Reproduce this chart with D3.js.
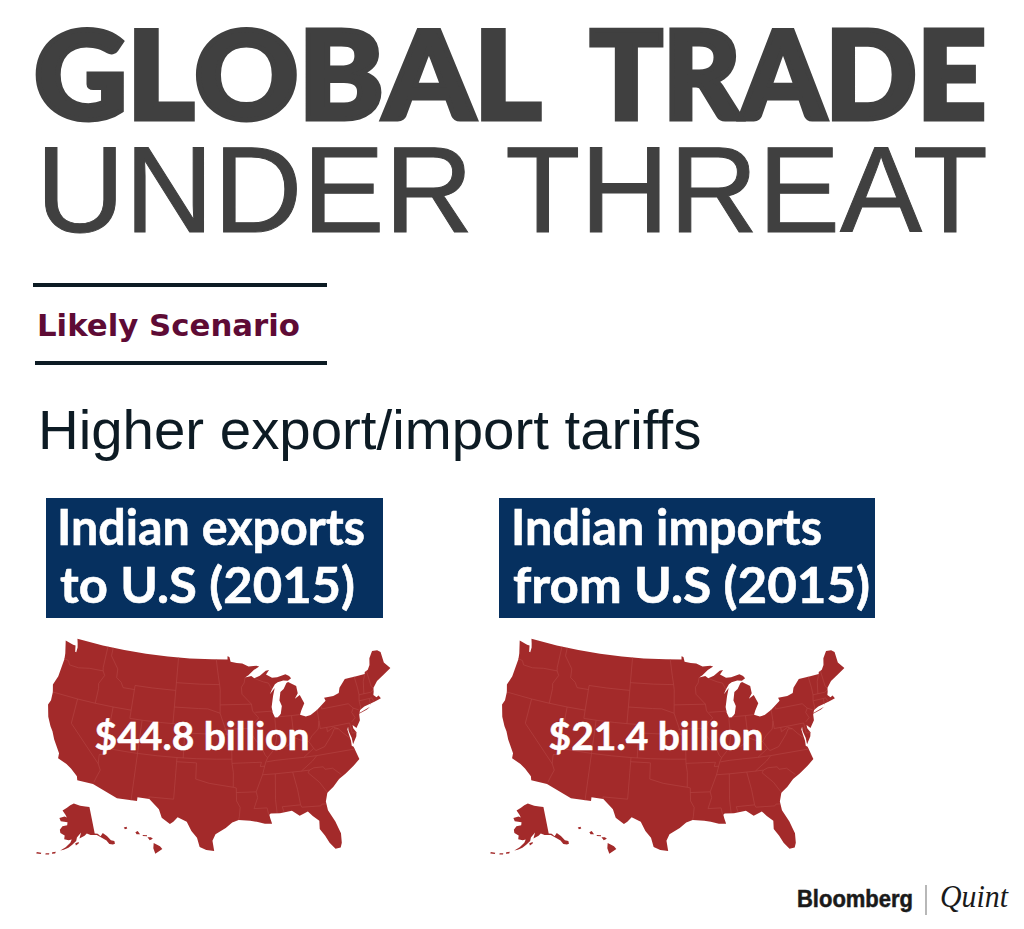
<!DOCTYPE html>
<html>
<head>
<meta charset="utf-8">
<script src="https://cdn.jsdelivr.net/npm/d3@7"></script>
<style>
  html, body { margin: 0; background: #fff; }
  svg { display: block; }
</style>
</head>
<body>
<svg id="chart" width="1024" height="929"></svg>
<script>
// text and values
var headlineWords = ['GLOBAL', 'TRADE'],
    subhead = 'UNDER THREAT',
    sectionLabel = 'Likely Scenario',
    scenario = 'Higher export/import tariffs',
    panelTitles = [['Indian exports', 'to U.S (2015)'], ['Indian imports', 'from U.S (2015)']],
    panelValues = [44.8, 21.4];

// outlines as [lon, lat], clockwise
var mainland = [[-124.7,48.4],[-123.2,48.15],[-122.75,48.15],[-122.5,47.4],[-122.3,47.4],[-122.3,48.0],[-122.5,48.5],[-122.75,49],
    [-118,49],[-114,49],[-110,49],[-106,49],[-102,49],[-98,49],[-95.15,49],[-95.15,49.38],[-94.8,49.3],[-94.6,48.7],[-93.5,48.55],[-92.5,48.45],[-91.4,48.07],[-90,48.1],[-89.5,48],
    [-90.5,47.6],[-91.5,47],[-92.1,46.75],[-91,46.9],[-90.5,46.6],[-89.5,46.85],[-88.4,47.4],[-87.8,47.47],[-88.4,46.95],[-87.4,46.5],[-86.5,46.5],[-85,46.75],[-84.4,46.5],[-84.1,46.2],[-84.7,45.95],
    [-85.5,46.05],[-86.5,45.9],[-87,45.7],[-87.6,45.1],[-88,44.55],[-87.1,45.25],[-87.5,44.3],[-87.9,43],[-87.8,42.3],[-87.5,41.7],[-87,41.7],[-86.5,42.1],[-86.2,43],[-86.5,43.7],[-86.2,44.7],[-85.6,45],[-85,45.7],[-84.7,45.78],
    [-83.4,45.2],[-83.3,44.3],[-83.9,43.7],[-83,44.07],[-82.45,43],[-83.1,42.2],[-83.4,41.7],[-82.5,41.4],[-81.7,41.5],[-80.5,42],[-78.9,42.9],[-79.05,43.27],[-77.5,43.27],[-76.5,43.5],[-76.2,44.1],[-75,45],[-73,45],[-71.5,45],[-71.4,45.25],[-70.8,45.4],[-70.3,45.9],[-70,46.7],[-69.2,47.45],[-68.3,47.35],[-67.8,47.05],[-67.8,45.7],[-67,44.85],
    [-68.5,44.3],[-69.8,43.8],[-70.7,43.1],[-70.8,42.7],[-71,42.3],[-70.6,41.95],[-70.2,42.07],[-69.95,41.7],[-70.7,41.55],[-71.4,41.45],[-72.9,41.25],[-73.7,40.95],[-74,40.45],[-74.1,39.75],[-74.9,38.95],[-75.4,39.4],[-75.4,39],[-75.05,38.45],[-75.2,38],[-75.95,37.15],
    [-75.95,37.9],[-76.2,38.8],[-76.15,39.3],[-76.35,39],[-76.25,38.3],[-76.15,37.6],[-76.2,37],[-75.95,36.85],[-75.5,35.25],[-76.5,34.65],[-77.9,33.9],[-79,33.4],[-80,32.6],[-81,32],[-81.4,31],[-81.3,29.9],[-80.55,28.45],[-80.05,26.9],[-80.15,25.75],[-80.4,25.2],[-81.1,25.15],[-81.75,26],[-82.2,26.9],[-82.8,27.8],[-82.7,28.8],[-83.5,29.5],[-84.1,30.1],[-85.3,29.7],[-86.3,30.4],[-88,30.25],[-89.3,30.3],[-89.5,30.15],[-89.4,29.7],[-89.2,29.05],[-90.2,29.1],[-91.3,29.4],[-92.2,29.55],[-93.8,29.7],[-94.7,29.4],[-95.6,28.75],[-97,28],[-97.4,27.2],[-97.15,25.95],
    [-98.2,26.05],[-99.1,26.4],[-99.5,27.5],[-100.3,28.3],[-101,29.4],[-102.3,29.88],[-102.85,29.3],[-103.3,29],[-104.5,29.65],[-105,30.65],[-106.5,31.75],[-108.2,31.78],[-108.2,31.33],[-111.07,31.33],[-114.8,32.5],[-117.12,32.53],[-117.3,33],[-118.4,33.75],[-119.2,34.15],[-120.6,34.55],[-120.65,35.15],[-121.9,36.6],[-122.5,37.5],[-123,38],[-123.75,39],[-124.35,40.4],[-124.1,41],[-124.2,42],[-124.55,42.85],[-124.1,44],[-123.95,46.2],[-124.1,46.9],[-124.7,48.4]];

var longIsland = [[-74,40.6],[-72,41.05],[-72.6,40.8],[-73.9,40.55],[-74,40.6]];

var alaska = [[-156.5,71.3],[-150,70.5],[-145,70],[-141,69.65],[-141,65],[-141,60.3],[-139,60],[-137.5,58.9],[-135.5,59.8],[-133.4,58.4],[-131.8,56.6],[-130,55.9],[-130.2,55],[-131.5,55],[-133.5,55.5],[-134.5,57],[-136.5,58.1],[-139.8,59.6],[-144,60],[-146.5,60.7],[-148.2,60],[-151.8,59.2],[-150.5,61.2],[-153.5,59.5],[-154,58.3],[-156.5,57],[-158.8,55.9],[-161.5,55.1],[-163.5,54.7],[-160.5,56],[-157.8,57.7],[-157,58.8],[-159,58.5],[-162,58.7],[-162,60],[-165.2,60.6],[-166,61.7],[-164.5,63],[-161,63.6],[-161,64.6],[-166.5,64.6],[-168.1,65.6],[-164,66.5],[-162,66.2],[-163.5,67.1],[-166.7,68.35],[-163,69.6],[-160,70.6],[-156.5,71.3]];

var islands = [
    [[-154.6,57.6],[-152.3,58],[-152.4,57.5],[-154.2,56.8],[-154.6,57.6]],
    [[-168,53.6],[-166,54],[-166.2,53.4],[-168,53.1],[-168,53.6]],
    [[-171.5,52.7],[-169.5,53],[-169.5,52.6],[-171.5,52.3],[-171.5,52.7]],
    [[-176.5,52.2],[-174,52.5],[-174,52],[-176.5,51.7],[-176.5,52.2]],
    [[-155.9,20.25],[-155.1,19.85],[-154.8,19.5],[-155.7,18.95],[-155.95,19.6],[-155.9,20.25]],
    [[-156.7,20.95],[-156.25,20.95],[-156,20.75],[-156.4,20.58],[-156.7,20.95]],
    [[-157.3,21.2],[-156.75,21.17],[-156.75,21.05],[-157.3,21.08],[-157.3,21.2]],
    [[-158.25,21.55],[-157.95,21.7],[-157.65,21.3],[-158.1,21.3],[-158.25,21.55]],
    [[-159.75,22.1],[-159.4,22.22],[-159.3,22],[-159.6,21.9],[-159.75,22.1]]
];

// state lines, west to east
var stateLines = [
    [[-124,46.25],[-123.2,46.15],[-122.8,45.7],[-121.2,45.65],[-119.3,45.93],[-116.92,46]],
    [[-117.03,49],[-117.04,46.4],[-116.92,46],[-116.5,45.5],[-117.2,44.4],[-117.03,43.8],[-117.03,42]],
    [[-124.2,42],[-120,42],[-117.03,42],[-114.04,42],[-111.05,42]],
    [[-120,42],[-120,39],[-114.63,35]],
    [[-114.63,35],[-114.75,36.1],[-114.04,36.2]],
    [[-114.04,42],[-114.04,37]],
    [[-114.63,35],[-114.15,34.3],[-114.5,33.4],[-114.72,32.72]],
    [[-114.04,37],[-111,37],[-109.05,37],[-106,37],[-103,37],[-100,37],[-97,37],[-94.62,37]],
    [[-109.05,41],[-109.05,37],[-109.05,31.33]],
    [[-111.05,45],[-111.05,42],[-111.05,41],[-109.05,41],[-106,41],[-104.05,41],[-102.05,41],[-102.05,40],[-102.05,37]],
    [[-111.05,45],[-108,45],[-104.05,45]],
    [[-116.05,49],[-116.05,48],[-114.5,46.6],[-114.4,45.55],[-113.5,45.1],[-113,44.5],[-111.05,44.5]],
    [[-104.05,49],[-104.05,45],[-104.05,43],[-104.05,41]],
    [[-104.05,45.94],[-100,45.94],[-96.56,45.94]],
    [[-104.05,43],[-100,43],[-98.5,43],[-96.45,42.5]],
    [[-102.05,40],[-99,40],[-95.3,40]],
    [[-103,37],[-103.04,32],[-106.6,32],[-106.5,31.75]],
    [[-103,36.5],[-100,36.5],[-100,34.56],[-98,34.1],[-96,33.85],[-94.48,33.64]],
    [[-94.62,36.5],[-94.43,35.4],[-94.48,33.64],[-94.04,33.55],[-94.04,31.99],[-93.55,31.2],[-93.7,30.1],[-93.8,29.7]],
    [[-94.04,33],[-91.17,33]],
    [[-97.2,49],[-96.8,47],[-96.56,45.94],[-96.45,45.3],[-96.45,43.5],[-96.45,42.5],[-96,41.5],[-95.3,40],[-94.62,39.1],[-94.62,36.5]],
    [[-96.45,43.5],[-91.22,43.5]],
    [[-95.77,40.58],[-91.7,40.6],[-91.42,40.38]],
    [[-92.1,46.75],[-92.3,46.1],[-92.8,45.6],[-92.75,44.75],[-91.22,43.5],[-91.1,42.7],[-90.15,41.8],[-91.05,41.2],[-91.42,40.38],[-91.5,40],[-90.7,39],[-90.2,38.7],[-89.5,37.3],[-89.15,37],[-89.5,36.5],[-90.1,35],[-91.17,33],[-91,32.3],[-91.6,31],[-89.75,31],[-89.6,30.2]],
    [[-90.64,42.5],[-87.8,42.5]],
    [[-90.4,46.55],[-89,46.1],[-88.1,45.9],[-87.6,45.1]],
    [[-87.53,41.7],[-87.53,39.3],[-87.95,38]],
    [[-89.15,37],[-88.1,37.9],[-87,37.9],[-85.7,38.3],[-84.8,39.1],[-83.7,38.65],[-82.6,38.4],[-82,39],[-80.85,39.7],[-80.52,40.64],[-80.52,42]],
    [[-84.8,39.1],[-84.8,41.73]],
    [[-87,41.76],[-84.8,41.73],[-83.45,41.73]],
    [[-79.76,42.27],[-79.76,42],[-75.35,42],[-74.7,41.36],[-75.1,40.9],[-74.75,40.2],[-75.4,39.8]],
    [[-74.7,41.36],[-73.9,41]],
    [[-80.52,40.64],[-80.52,39.72],[-78,39.72],[-75.79,39.72],[-75.7,38.46],[-75.05,38.45]],
    [[-79.48,39.72],[-79.48,39.2],[-78.4,39.6],[-77.7,39.3],[-77.1,38.7],[-76.3,38]],
    [[-77.7,39.3],[-78.35,39.4],[-78.9,38.75],[-80.3,37.5],[-81.7,37.2],[-82,37.5],[-82.6,38.4]],
    [[-82,37.5],[-83.68,36.6]],
    [[-75.9,36.55],[-81.7,36.59],[-83.68,36.6],[-86,36.63],[-88.07,36.6],[-89.4,36.5]],
    [[-90.1,35],[-88.2,35],[-84.32,35],[-83.1,35]],
    [[-81.7,36.59],[-82.5,36],[-84.32,35]],
    [[-83.1,35],[-82.4,35.2],[-81,35.15],[-80.8,34.82],[-79.67,34.8],[-78.55,33.86]],
    [[-83.1,35],[-83.35,34.7],[-81.9,33.4],[-81,32.05]],
    [[-85.6,35],[-85.18,32.87],[-85,31]],
    [[-88.2,35],[-88.47,31.9],[-88.4,30.3]],
    [[-87.45,30.4],[-87.6,31],[-85,31],[-84.86,30.7],[-82.2,30.56],[-82,30.75],[-81.45,30.7]],
    [[-94.62,36.5],[-90.15,36.5],[-90.37,36],[-89.7,36]],
    [[-73.35,45],[-73.25,43.6],[-73.28,42.75],[-73.5,42.05],[-73.5,41.3],[-73.65,41]],
    [[-71.5,45],[-72.05,44.2],[-72.46,42.73]],
    [[-73.28,42.75],[-71.3,42.7],[-70.82,42.87]],
    [[-71.08,45.3],[-70.98,43.4],[-70.7,43.07]],
    [[-73.5,42.05],[-71.8,42.02],[-71.38,42.02],[-71.15,41.5]],
    [[-71.8,42.02],[-71.85,41.32]]
];

var landShape = {
    type: 'MultiPolygon',
    coordinates: [[mainland], [longIsland], [alaska]].concat(islands.map(function(d) { return [d]; }))
};
var stateShape = { type: 'MultiLineString', coordinates: stateLines };

var svg = d3.select('#chart');

// headline block, each word fitted to its own width
var wordLayout = [[34, 507], [590, 396]];
svg.selectAll('.headline').data(headlineWords).enter()
  .append('text')
    .classed('headline', true)
    .attr('x', function(d, i) { return wordLayout[i][0]; })
    .attr('y', 119)
    .attr('textLength', function(d, i) { return wordLayout[i][1]; })
    .attr('lengthAdjust', 'spacingAndGlyphs')
    .style('font', '900 122px Lato')
    .style('font-kerning', 'none')
    .style('fill', '#404040')
    .style('stroke', '#404040')
    .style('stroke-width', 5)
    .text(function(d) { return d; });

svg.append('text')
    .attr('x', 36)
    .attr('y', 232)
    .attr('textLength', 952)
    .attr('lengthAdjust', 'spacingAndGlyphs')
    .style('font', '400 122px "Liberation Sans"')
    .style('fill', '#404040')
    .style('stroke', '#404040')
    .style('stroke-width', 1)
    .text(subhead);

// rules around the section label
svg.selectAll('.rule').data([[33, 285], [35, 363]]).enter()
  .append('line')
    .classed('rule', true)
    .attr('x1', function(d) { return d[0]; })
    .attr('x2', 327)
    .attr('y1', function(d) { return d[1]; })
    .attr('y2', function(d) { return d[1]; })
    .attr('stroke', '#0d1b24')
    .attr('stroke-width', 4);

svg.append('text')
    .attr('x', 37)
    .attr('y', 336)
    .attr('textLength', 263)
    .attr('lengthAdjust', 'spacingAndGlyphs')
    .style('font', '700 30px "DejaVu Sans"')
    .style('fill', '#5e0b35')
    .text(sectionLabel);

svg.append('text')
    .attr('x', 38)
    .attr('y', 449)
    .style('font', '400 56.4px "Liberation Sans"')
    .style('fill', '#0d1b24')
    .text(scenario);

// one panel per trade direction
var panelLayout = [
    { x: 46, w: 337, textX: [57, 60], widths: [308, 295], map: 219 },
    { x: 499, w: 376, textX: [511, 513], widths: [311, 357], map: 673 }
];

panelLayout.forEach(function(p, i) {
    svg.append('rect')
        .attr('x', p.x)
        .attr('y', 498)
        .attr('width', p.w)
        .attr('height', 120)
        .attr('fill', '#06305f');

    panelTitles[i].forEach(function(line, j) {
        svg.append('text')
            .attr('x', p.textX[j])
            .attr('y', 545 + j * 58)
            .attr('textLength', p.widths[j])
            .attr('lengthAdjust', 'spacingAndGlyphs')
            .style('font', '700 49px Lato')
            .style('fill', '#fff')
            .style('stroke', '#fff')
            .style('stroke-width', 0.6)
            .text(line);
    });

    var projection = d3.geoAlbersUsa().scale(475).translate([p.map, 745]),
        path = d3.geoPath(projection);

    svg.append('path')
        .attr('d', path(landShape))
        .attr('fill', '#a32a2a');

    svg.append('path')
        .attr('d', path(stateShape))
        .attr('fill', 'none')
        .attr('stroke', '#b54644')
        .attr('stroke-width', 0.6);

    svg.append('text')
        .attr('x', p.map - 17)
        .attr('y', 750)
        .attr('text-anchor', 'middle')
        .style('font', '700 39px Lato')
        .style('fill', '#fff')
        .style('stroke', '#fff')
        .style('stroke-width', 0.5)
        .text('$' + panelValues[i].toFixed(1) + ' billion');
});

// logo
svg.append('text')
    .attr('x', 797)
    .attr('y', 907)
    .attr('textLength', 116)
    .attr('lengthAdjust', 'spacingAndGlyphs')
    .style('font', '700 23px "Liberation Sans"')
    .style('fill', '#1a1a1a')
    .style('stroke', '#1a1a1a')
    .style('stroke-width', 0.5)
    .text('Bloomberg');

svg.append('line')
    .attr('x1', 926)
    .attr('x2', 926)
    .attr('y1', 885)
    .attr('y2', 915)
    .attr('stroke', '#888')
    .attr('stroke-width', 1.2);

svg.append('text')
    .attr('x', 940)
    .attr('y', 907)
    .attr('textLength', 68)
    .attr('lengthAdjust', 'spacingAndGlyphs')
    .style('font', 'italic 400 32px "Liberation Serif"')
    .style('fill', '#1a1a1a')
    .text('Quint');
</script>
</body>
</html>
